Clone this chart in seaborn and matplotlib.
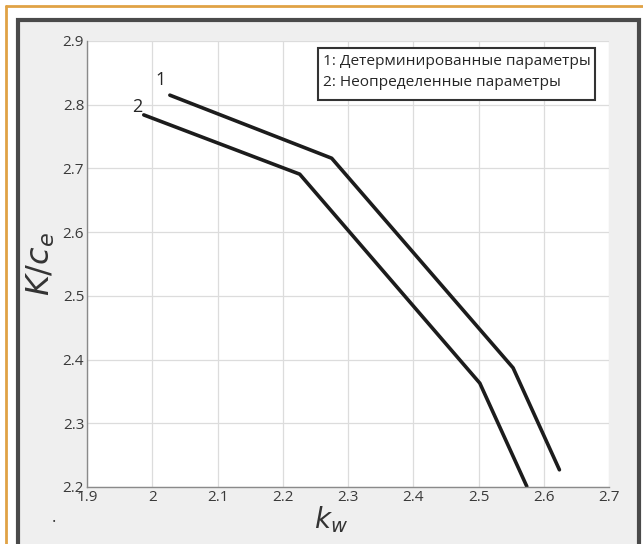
# Chart: K/c_e against k_w for determined and uncertain parameters
import matplotlib
matplotlib.use('Agg')
import matplotlib.pyplot as plt
import matplotlib.patches as mpatches
import seaborn as sns
import pandas as pd

# data
kw_1 = [2.027, 2.275, 2.553, 2.624]
kc_1 = [2.815, 2.716, 2.387, 2.227]
kw_2 = [1.987, 2.226, 2.502, 2.574]
kc_2 = [2.784, 2.691, 2.363, 2.201]
curve_names = ['1', '2']
legend_lines = ['1: Детерминированные параметры', '2: Неопределенные параметры']
x_ticks = [1.9, 2.0, 2.1, 2.2, 2.3, 2.4, 2.5, 2.6, 2.7]
x_tick_labels = ['1.9', '2', '2.1', '2.2', '2.3', '2.4', '2.5', '2.6', '2.7']
y_ticks = [2.2, 2.3, 2.4, 2.5, 2.6, 2.7, 2.8, 2.9]

df = pd.concat([
    pd.DataFrame({'kw': kw_1, 'kc': kc_1, 'curve': curve_names[0]}),
    pd.DataFrame({'kw': kw_2, 'kc': kc_2, 'curve': curve_names[1]}),
])

sns.set_style('white')
plt.rcParams['font.family'] = ['Open Sans', 'DejaVu Sans']

fig = plt.figure(figsize=(6.43, 5.44), dpi=100)
fig.patch.set_facecolor('white')

# outer frame: orange border then grey panel
fig.add_artist(mpatches.Rectangle((18 / 643, -0.02), 621 / 643, 1 - 20 / 544 + 0.02,
                                  transform=fig.transFigure, facecolor='#efefef',
                                  edgecolor='#4a4a4a', linewidth=3, zorder=0))
fig.add_artist(plt.Line2D([6 / 643, 1], [1 - 6 / 544, 1 - 6 / 544], transform=fig.transFigure,
                          color='#e0a245', linewidth=2))
fig.add_artist(plt.Line2D([6 / 643, 6 / 643], [0, 1 - 6 / 544], transform=fig.transFigure,
                          color='#e0a245', linewidth=2))

ax = fig.add_axes([87 / 643, 1 - 487 / 544, (609 - 87) / 643, (487 - 41) / 544])
ax.set_facecolor('white')

sns.lineplot(data=df, x='kw', y='kc', units='curve', estimator=None, sort=False,
             color='#1c1c1c', linewidth=2.6, ax=ax, legend=False)

ax.set_xlim(1.9, 2.7)
ax.set_ylim(2.2, 2.9)
ax.set_xticks(x_ticks)
ax.set_xticklabels(x_tick_labels)
ax.set_yticks(y_ticks)
ax.grid(True, color='#dcdcdc', linewidth=0.9)
ax.tick_params(direction='in', length=5, color='#7a7a7a', labelsize=11,
               labelcolor='#3a3a3a', pad=2)
for s in ['top', 'right']:
    ax.spines[s].set_visible(False)
for s in ['left', 'bottom']:
    ax.spines[s].set_color('#8a8a8a')
    ax.spines[s].set_linewidth(1.0)

ax.set_xlabel('$k_w$', fontsize=20, color='#333333', labelpad=0)
ax.xaxis.set_label_coords(0.467, -0.04)
ax.set_ylabel('$K/c_e$', fontsize=23, color='#333333', labelpad=4)

# curve numbers
ax.text(kw_1[0] - 0.015, kc_1[0] + 0.024, curve_names[0], fontsize=13, ha='center', va='center')
ax.text(kw_2[0] - 0.010, kc_2[0] + 0.012, curve_names[1], fontsize=13, ha='center', va='center')

# legend box with text only
ax.add_patch(mpatches.Rectangle((0.4425, 0.868), 0.9735 - 0.4425, 0.984 - 0.868,
                                transform=ax.transAxes, facecolor='white',
                                edgecolor='#333333', linewidth=1.5, zorder=3))
ax.text(0.452, 0.953, legend_lines[0], transform=ax.transAxes, fontsize=11.1,
        ha='left', va='center', zorder=4)
ax.text(0.452, 0.908, legend_lines[1], transform=ax.transAxes, fontsize=11.1,
        ha='left', va='center', zorder=4)

fig.text(52 / 643, 1 - 522 / 544, '.', fontsize=12, color='#333333')

fig.savefig('out.png', dpi=100)
